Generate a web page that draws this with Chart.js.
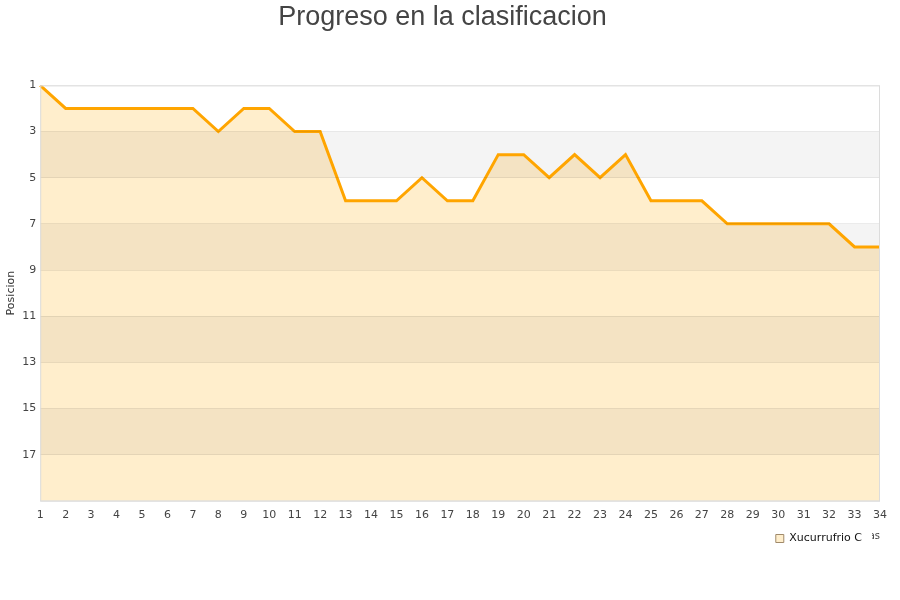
<!DOCTYPE html>
<html>
<head>
<meta charset="utf-8">
<script src="https://cdn.jsdelivr.net/npm/chart.js@4.4.1/dist/chart.umd.min.js"></script>
<style>
html,body{margin:0;padding:0;background:#fff;}
#wrap{width:900px;height:600px;}
</style>
</head>
<body>
<div id="wrap"><canvas id="c" width="900" height="600"></canvas></div>
<script>
const jornadas = ["1","2","3","4","5","6","7","8","9","10","11","12","13","14","15","16","17","18","19","20","21","22","23","24","25","26","27","28","29","30","31","32","33","34"];
const posiciones = [1,2,2,2,2,2,2,3,2,2,3,3,6,6,6,5,6,6,4,4,5,4,5,4,6,6,6,7,7,7,7,7,8,8];
const equipo = "Xucurrufrio C";
const bandas = [[3,5],[7,9],[11,13],[15,17]];
const LEGEND_SHIFT_Y = 19;
const LEGEND_SHIFT_X = 8;

const bandPlugin = {
  id: 'bands',
  afterLayout(chart) {
    const lg = chart.legend;
    if (!lg) return;
    lg.top -= LEGEND_SHIFT_Y;
    lg.bottom -= LEGEND_SHIFT_Y;
    lg.left -= LEGEND_SHIFT_X;
    lg.right -= LEGEND_SHIFT_X;
    if (!lg._origDraw) {
      lg._origDraw = lg.draw;
      lg.draw = function () {};
    }
  },
  beforeDatasetDraw(chart) {
    const {ctx, chartArea, scales} = chart;
    const y = scales.y;
    ctx.save();
    ctx.fillStyle = 'rgba(0,0,0,0.045)';
    bandas.forEach(([a,b]) => {
      const y1 = y.getPixelForValue(a), y2 = y.getPixelForValue(b);
      ctx.fillRect(chartArea.left, Math.min(y1,y2), chartArea.right - chartArea.left, Math.abs(y2-y1));
    });
    ctx.restore();
  },
  afterDraw(chart) {
    const {ctx, chartArea} = chart;
    ctx.save();
    ctx.strokeStyle = '#dcdcdc';
    ctx.lineWidth = 1;
    ctx.strokeRect(chartArea.left + 0.5, chartArea.top + 0.5, chartArea.right - chartArea.left - 1, chartArea.bottom - chartArea.top);
    const lg = chart.legend;
    if (lg && lg.legendHitBoxes && lg.legendHitBoxes.length) {
      const h = lg.legendHitBoxes[0];
      const cy = h.top + h.height / 2;
      ctx.fillStyle = '#fff';
      ctx.fillRect(h.left - 6, cy - 8, h.width + 16, 18);
      ctx.restore();
      ctx.save();
      lg._origDraw.call(lg);
    }
    ctx.restore();
  }
};

new Chart(document.getElementById('c'), {
  type: 'line',
  data: {
    labels: jornadas,
    datasets: [{
      label: equipo,
      data: posiciones,
      borderColor: '#ffa500',
      backgroundColor: '#ffeecc',
      borderWidth: 3,
      pointRadius: 0,
      fill: 'start',
      tension: 0
    }]
  },
  options: {
    responsive: false,
    animation: false,
    layout: { padding: { left: 5, right: 20, top: 1, bottom: 27 } },
    plugins: {
      filler: { drawTime: 'beforeDatasetsDraw' },
      title: {
        display: true,
        text: 'Progreso en la clasificacion',
        color: '#444',
        font: { family: 'Liberation Sans', size: 27, weight: 'normal' },
        padding: { top: 0, bottom: 52 }
      },
      legend: {
        position: 'bottom',
        align: 'end',
        labels: {
          color: '#111',
          font: { family: 'DejaVu Sans', size: 11 },
          boxWidth: 8,
          boxHeight: 8,
          padding: 10,
          generateLabels(chart) {
            const ds = chart.data.datasets[0];
            return [{ text: ds.label, fillStyle: '#ffeecc', strokeStyle: '#a08a6a', fontColor: '#111', lineWidth: 1, datasetIndex: 0 }];
          }
        }
      },
      tooltip: { enabled: false }
    },
    scales: {
      x: {
        offset: false,
        grid: { display: false },
        border: { display: false },
        ticks: { color: '#444', font: { family: 'DejaVu Sans', size: 11 }, maxRotation: 0, autoSkip: false, padding: 0 },
        title: { display: true, text: 'Jornadas', align: 'end', color: '#444', font: { family: 'DejaVu Sans', size: 10 }, padding: { top: 8, bottom: 0 } }
      },
      y: {
        reverse: true,
        min: 1,
        max: 19,
        grid: { color: 'rgba(0,0,0,0.08)', z: 1, drawTicks: false },
        border: { display: false },
        ticks: {
          stepSize: 2,
          color: '#444',
          font: { family: 'DejaVu Sans', size: 11 },
          padding: 4,
          callback(v) { return v === 19 ? '' : v; }
        },
        title: { display: true, text: 'Posicion', color: '#333', font: { family: 'DejaVu Sans', size: 11 }, padding: 0 }
      }
    }
  },
  plugins: [bandPlugin]
});
</script>
</body>
</html>
